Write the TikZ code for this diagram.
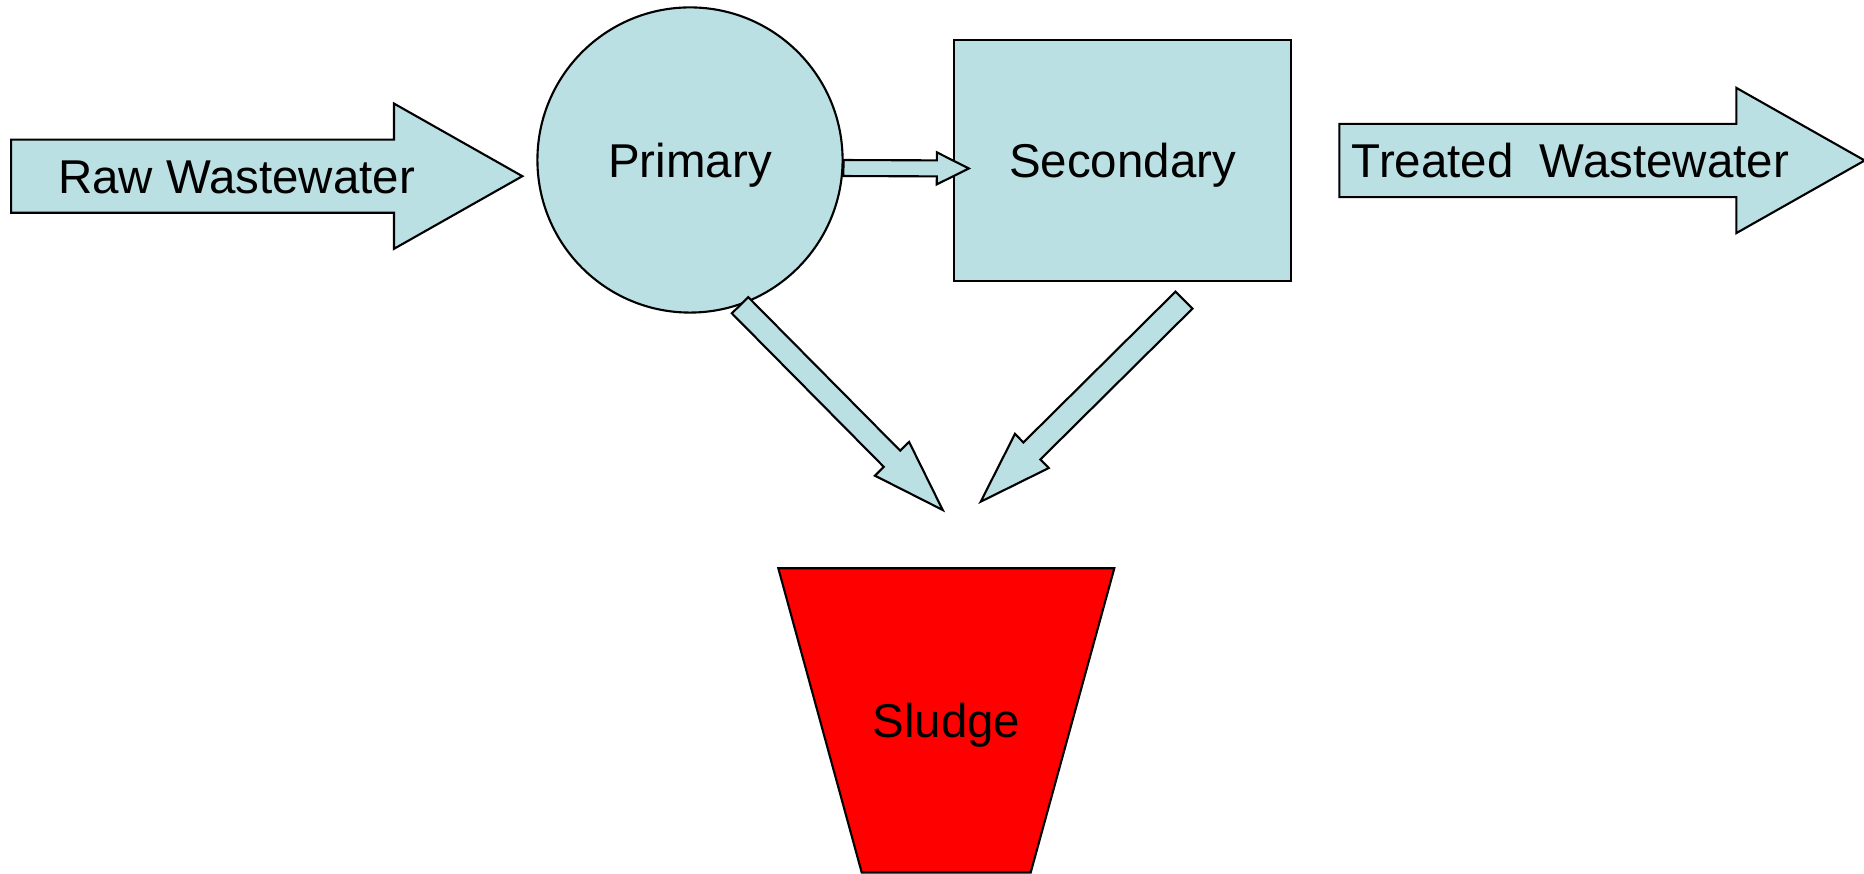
\documentclass[tikz,border=0pt]{standalone}
\usepackage{fontspec}
\setmainfont{Liberation Sans}
\usetikzlibrary{shapes.arrows,calc}
\definecolor{water}{RGB}{187,224,227}
\begin{document}
\begin{tikzpicture}[x=0.01cm,y=-0.01cm,line width=0.6pt,
		every node/.style={font=\fontsize{13.5}{16}\selectfont},
		unit/.style={draw,fill=water,text depth=0pt,inner sep=0pt},
		stream/.style={single arrow,draw,fill=water,inner xsep=0pt,inner ysep=0.355cm,anchor=tail,
			minimum width=1.43cm,single arrow head extend=0.36cm,single arrow tip angle=59},
		flow/.style={draw,fill=water,line join=miter}]
		\useasboundingbox (0,0) rectangle (1864,874);
		% treatment units
		\node[unit,circle,minimum size=3.05cm] (primary) at (690,160) {Primary};
		\node[unit,rectangle,minimum width=3.37cm,minimum height=2.41cm] (secondary) at (1122.5,160.5) {Secondary};
		\draw[fill=red] (778.3,568.3) -- (1114.3,568.3) -- (1030.7,872.5) -- (861.7,872.5) -- cycle;
		\node[text depth=0pt,inner sep=0pt] (sludge) at (946.5,720) {Sludge};
		% in and out
		\node[stream,minimum height=5.11cm] (raw) at (10,176.2) {};
		\node[stream,minimum height=5.25cm] (treated) at (1338.3,160.5) {};
		\node[anchor=base west,inner sep=0pt] (rawtext) at (57,194) {Raw Wastewater};
		\node[anchor=base west,inner sep=0pt] (treatedtext) at (1350.7,177.3) {Treated\ \ Wastewater};
		% loose ends of the flows
		\coordinate (feed) at ([shift={(16,8)}]secondary.west);
		\coordinate (secout) at ([shift={(61.5,18)}]secondary.south);
		\coordinate (dropA) at (942.7,510);
		\coordinate (dropB) at (980.7,501.7);
		\foreach \src/\dst/\sw/\hw/\hl in {primary.-3/feed/0.08cm/0.16cm/0.32cm,
			primary.-71.6/dropA/0.115cm/0.24cm/0.72cm,secout/dropB/0.12cm/0.24cm/0.72cm}
		{\coordinate (neck) at ($(\dst)!\hl!(\src)$);
			\draw[flow] ($(\src)!\sw!90:(\dst)$) -- ($(neck)!\sw!90:(\dst)$) -- ($(neck)!\hw!90:(\dst)$)
			-- (\dst) -- ($(neck)!\hw!-90:(\dst)$) -- ($(neck)!\sw!-90:(\dst)$) -- ($(\src)!\sw!-90:(\dst)$) -- cycle;}
\end{tikzpicture}
\end{document}
